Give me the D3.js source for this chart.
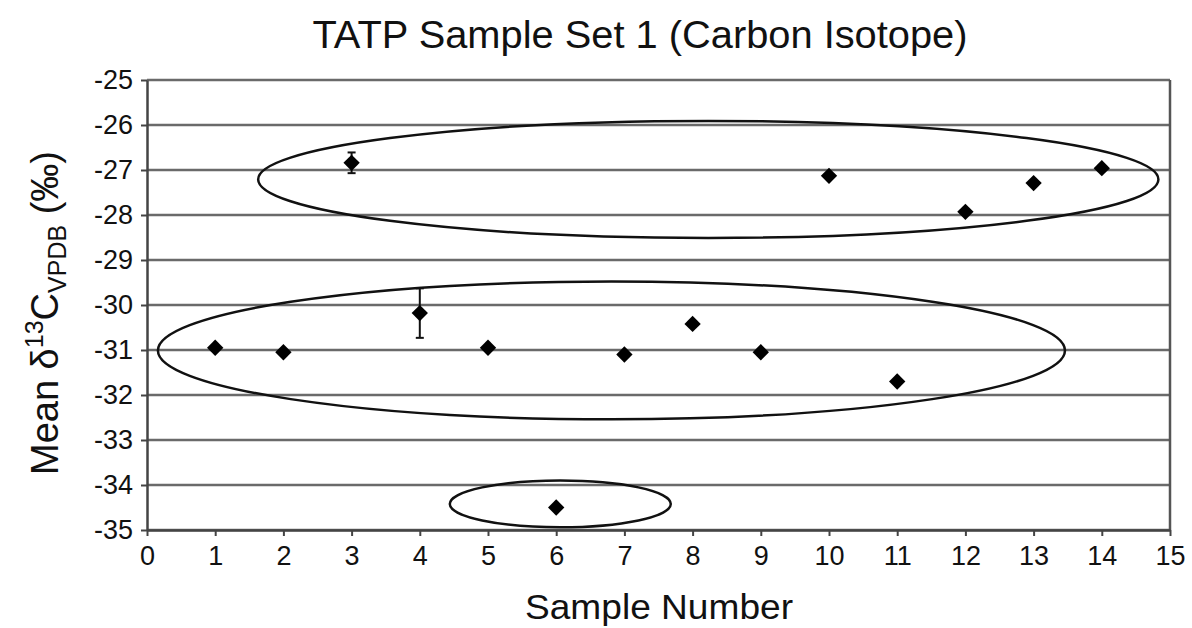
<!DOCTYPE html>
<html>
<head>
<meta charset="utf-8">
<script src="https://cdn.jsdelivr.net/npm/d3@7"></script>
<style>
  body { margin: 0; background: #fff; }
  svg text { font-family: "Liberation Sans", Arial, sans-serif; fill: #111; }
</style>
</head>
<body>
<div id="chart"></div>
<script>
// sample numbers and mean delta13C values (per mil)
var samples = [1, 2, 3, 4, 5, 6, 7, 8, 9, 10, 11, 12, 13, 14];
var means = [-30.95, -31.05, -26.84, -30.18, -30.95, -34.5, -31.1, -30.42, -31.05, -27.13, -31.7, -27.93, -27.29, -26.96];
var errs = [0, 0, 0.23, 0.55, 0, 0, 0, 0, 0, 0, 0, 0, 0, 0];
var xTicks = d3.range(0, 16);
var yTicks = d3.range(-35, -24);
// grouping ellipses (data units)
var ellCx = [8.23, 6.81, 6.06];
var ellCy = [-27.21, -31.01, -34.42];
var ellRx = [6.6, 6.65, 1.62];
var ellRy = [1.3, 1.53, 0.52];

var width = 1192, height = 628;
var svg = d3.select("#chart").append("svg")
    .attr("width", width)
    .attr("height", height);

var x = d3.scaleLinear().domain([0, 15]).range([147, 1170]);
var y = d3.scaleLinear().domain([-35, -25]).range([530, 80]);

// gridlines
svg.append("g")
    .selectAll("line")
    .data(yTicks)
    .enter()
    .append("line")
    .attr("x1", x(0))
    .attr("x2", x(15))
    .attr("y1", function (d) { return y(d); })
    .attr("y2", function (d) { return y(d); })
    .attr("stroke", "#6a6a6a")
    .attr("stroke-width", 2.5);

// right border
svg.append("line")
    .attr("x1", x(15)).attr("x2", x(15))
    .attr("y1", y(-25)).attr("y2", y(-35))
    .attr("stroke", "#555").attr("stroke-width", 2.5);

// axes (plain hyphen for minus, like the original)
var fmt = function (d) { return String(d); };
var yAxis = d3.axisLeft(y).tickValues(yTicks).tickFormat(fmt).tickSize(6).tickSizeOuter(0).tickPadding(8);
var xAxis = d3.axisBottom(x).tickValues(xTicks).tickFormat(fmt).tickSize(6).tickSizeOuter(0).tickPadding(10);

var gy = svg.append("g").attr("transform", "translate(" + x(0) + ",0)").call(yAxis);
var gx = svg.append("g").attr("transform", "translate(0," + y(-35) + ")").call(xAxis);
[gx, gy].forEach(function (g) {
    g.select(".domain").attr("stroke", "#444").attr("stroke-width", 2.5);
    g.selectAll(".tick line").attr("stroke", "#444").attr("stroke-width", 2);
    g.selectAll(".tick text").style("font-size", "27px").attr("fill", "#111")
        .style("font-family", "'Liberation Sans', Arial, sans-serif");
});

// ellipses
svg.append("g")
    .selectAll("ellipse")
    .data(ellCx)
    .enter()
    .append("ellipse")
    .attr("cx", function (d) { return x(d); })
    .attr("cy", function (d, i) { return y(ellCy[i]); })
    .attr("rx", function (d, i) { return x(d + ellRx[i]) - x(d); })
    .attr("ry", function (d, i) { return y(ellCy[i] - ellRy[i]) - y(ellCy[i]); })
    .attr("fill", "none")
    .attr("stroke", "#111")
    .attr("stroke-width", 2.5);

// error bars
var eb = svg.append("g").selectAll("g")
    .data(samples.filter(function (d, i) { return errs[i] > 0; }))
    .enter().append("g");
eb.append("line")
    .attr("x1", function (d) { return x(d); })
    .attr("x2", function (d) { return x(d); })
    .attr("y1", function (d) { var i = d - 1; return y(means[i] + errs[i]); })
    .attr("y2", function (d) { var i = d - 1; return y(means[i] - errs[i]); })
    .attr("stroke", "#111").attr("stroke-width", 2);
eb.append("line")
    .attr("x1", function (d) { return x(d) - 4; })
    .attr("x2", function (d) { return x(d) + 4; })
    .attr("y1", function (d) { var i = d - 1; return y(means[i] + errs[i]); })
    .attr("y2", function (d) { var i = d - 1; return y(means[i] + errs[i]); })
    .attr("stroke", "#111").attr("stroke-width", 2);
eb.append("line")
    .attr("x1", function (d) { return x(d) - 4; })
    .attr("x2", function (d) { return x(d) + 4; })
    .attr("y1", function (d) { var i = d - 1; return y(means[i] - errs[i]); })
    .attr("y2", function (d) { var i = d - 1; return y(means[i] - errs[i]); })
    .attr("stroke", "#111").attr("stroke-width", 2);

// diamond markers
var diamond = d3.symbol().type(d3.symbolDiamond2).size(170);
svg.append("g")
    .selectAll("path")
    .data(samples)
    .enter()
    .append("path")
    .attr("d", diamond)
    .attr("transform", function (d, i) { return "translate(" + x(d) + "," + y(means[i]) + ")"; })
    .attr("fill", "#000");

// title
svg.append("text")
    .attr("x", 640).attr("y", 48)
    .attr("text-anchor", "middle")
    .attr("textLength", 655)
    .attr("lengthAdjust", "spacingAndGlyphs")
    .style("font-size", "38px")
    .text("TATP Sample Set 1 (Carbon Isotope)");

// x label
svg.append("text")
    .attr("x", 659).attr("y", 619)
    .attr("text-anchor", "middle")
    .attr("textLength", 268)
    .attr("lengthAdjust", "spacingAndGlyphs")
    .style("font-size", "35px")
    .text("Sample Number");

// y label with super/subscript
var yl = svg.append("text")
    .attr("transform", "translate(58,313) rotate(-90)")
    .attr("text-anchor", "middle")
    .style("font-size", "38px");
yl.append("tspan").text("Mean \u03b4");
yl.append("tspan").attr("dy", -15).style("font-size", "25px").text("13");
yl.append("tspan").attr("dy", 15).text("C");
yl.append("tspan").attr("dy", 8).style("font-size", "25px").text("VPDB");
yl.append("tspan").attr("dy", -8).text(" (\u2030)");
</script>
</body>
</html>
